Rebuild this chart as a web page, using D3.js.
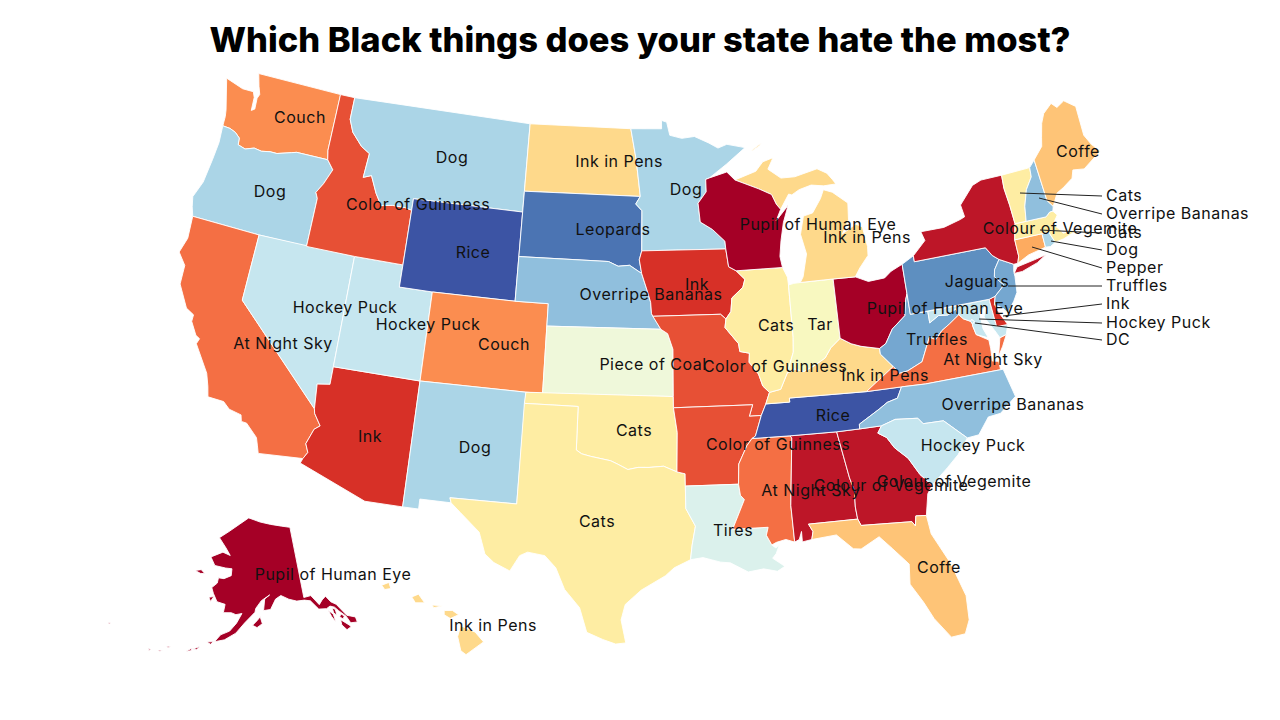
<!DOCTYPE html>
<html>
<head>
<meta charset="utf-8">
<script src="https://cdn.jsdelivr.net/npm/d3@7"></script>
<style>
  html, body { margin: 0; background: #fff; }
  text { font-family: Inter, "Open Sans", sans-serif; }
</style>
</head>
<body>
<svg id="chart" width="1280" height="720"></svg>
<script>
// things, worst first (this is the order the colour ramp runs in)
const things = ["Pupil of Human Eye", "Colour of Vegemite", "Ink", "Color of Guinness", "At Night Sky", "Couch", "Pepper", "Coffe", "Ink in Pens", "Cats", "Tar", "Piece of Coal", "Tires", "Hockey Puck", "Dog", "Overripe Bananas", "Truffles", "Jaguars", "Leopards", "Rice"];
const thingColors = ["#a50026", "#bd1628", "#d73027", "#e75035", "#f46f44", "#fb8d50", "#fdab60", "#fec477", "#fed98b", "#feeda3", "#f8f8c0", "#eff8da", "#dbf1ec", "#c6e6ef", "#abd5e7", "#90bfdd", "#75a7d0", "#5e8fc0", "#4b74b3", "#3c54a4"];

const stateThing = {
  WA: "Couch", OR: "Dog", CA: "At Night Sky", NV: "Hockey Puck", ID: "Color of Guinness", MT: "Dog", WY: "Rice",
  UT: "Hockey Puck", AZ: "Ink", CO: "Couch", NM: "Dog", ND: "Ink in Pens", SD: "Leopards", NE: "Overripe Bananas",
  KS: "Piece of Coal", OK: "Cats", TX: "Cats", MN: "Dog", IA: "Ink", MO: "Color of Guinness", AR: "Color of Guinness",
  LA: "Tires", WI: "Pupil of Human Eye", IL: "Cats", MI: "Ink in Pens", IN: "Tar", OH: "Pupil of Human Eye",
  KY: "Ink in Pens", TN: "Rice", MS: "At Night Sky", AL: "Colour of Vegemite", GA: "Colour of Vegemite", FL: "Coffe",
  SC: "Hockey Puck", NC: "Overripe Bananas", VA: "At Night Sky", WV: "Truffles", PA: "Jaguars", NY: "Colour of Vegemite",
  ME: "Coffe", VT: "Cats", NH: "Overripe Bananas", MA: "Cats", RI: "Dog", CT: "Pepper", NJ: "Truffles", DE: "Ink",
  MD: "Hockey Puck", DC: "Hockey Puck", AK: "Pupil of Human Eye", HI: "Ink in Pens"
};

// state outlines, lon,lat
const outlines = {
  WA: ["-124.73,48.38 -123.5,48.13 -122.76,48.14 -122.6,47.9 -122.55,47.3 -122.35,47.4 -122.4,47.9 -122.3,48.1 -122.5,48.45 -122.75,49 -117.03,49 -117.04,46.42 -116.92,45.995 -118.98,46 -119.3,45.93 -120.2,45.73 -120.65,45.73 -121.2,45.65 -121.7,45.7 -122.25,45.55 -122.75,45.65 -122.8,45.95 -123.15,46.15 -123.55,46.25 -124.05,46.27 -124.07,46.7 -124.15,47 -124.4,47.6"],
  OR: ["-124.05,46.27 -123.55,46.25 -123.15,46.15 -122.8,45.95 -122.75,45.65 -122.25,45.55 -121.7,45.7 -121.2,45.65 -120.65,45.73 -120.2,45.73 -119.3,45.93 -118.98,46 -116.92,45.995 -116.46,45.6 -116.85,44.9 -117.2,44.45 -117.03,44.2 -117.03,42 -120,42 -124.2,42 -124.4,42.4 -124.55,42.84 -124.2,43.6 -124.05,44.7 -123.97,45.5"],
  CA: ["-124.2,42 -120,42 -120,39 -114.63,35 -114.57,34.8 -114.14,34.3 -114.43,34.1 -114.72,33.4 -114.52,33.03 -114.72,32.72 -117.12,32.53 -117.25,32.85 -117.4,33.2 -118.1,33.73 -118.4,33.75 -118.5,34.03 -119.2,34.15 -119.6,34.42 -120.5,34.45 -120.65,34.9 -120.9,35.45 -121.9,36.6 -121.8,36.85 -122.05,36.95 -122.5,37.5 -122.5,37.8 -123,38 -123.75,38.95 -123.8,39.8 -124.35,40.3 -124.1,41"],
  NV: ["-120,42 -114.04,42 -114.04,37 -114.04,36.2 -114.75,36.1 -114.63,35 -120,39"],
  AZ: ["-114.04,37 -109.05,37 -109.05,31.33 -111.07,31.33 -114.81,32.5 -114.72,32.72 -114.52,33.03 -114.72,33.4 -114.43,34.1 -114.14,34.3 -114.57,34.8 -114.63,35 -114.75,36.1 -114.04,36.2"],
  UT: ["-114.04,42 -111.05,42 -111.05,41 -109.05,41 -109.05,37 -114.04,37"],
  ID: ["-117.04,49 -116.05,49 -116.05,48 -115.7,47.45 -114.95,46.9 -114.35,46.65 -114.45,45.55 -113.95,45.7 -113.45,44.95 -113,44.45 -112.3,44.55 -111.5,44.55 -111.05,44.48 -111.05,42 -114.04,42 -117.03,42 -117.03,44.2 -117.2,44.45 -116.85,44.9 -116.46,45.6 -116.92,45.995 -117.04,46.42"],
  MT: ["-116.05,49 -104.05,49 -104.05,45.94 -104.05,45 -111.05,45 -111.05,44.48 -111.5,44.55 -112.3,44.55 -113,44.45 -113.45,44.95 -113.95,45.7 -114.45,45.55 -114.35,46.65 -114.95,46.9 -115.7,47.45 -116.05,48"],
  WY: ["-111.05,45 -104.05,45 -104.05,43 -104.05,41 -109.05,41 -111.05,41"],
  CO: ["-109.05,41 -104.05,41 -102.05,41 -102.05,40 -102.05,37 -103,37 -109.05,37"],
  NM: ["-109.05,37 -103,37 -103.05,32 -106.62,32 -106.53,31.78 -108.2,31.78 -108.2,31.33 -109.05,31.33"],
  ND: ["-104.05,49 -97.23,49 -96.85,47.6 -96.56,45.94 -104.05,45.94"],
  SD: ["-104.05,45.94 -96.56,45.94 -96.85,45.6 -96.45,45.3 -96.45,43.5 -96.6,43.1 -96.45,42.49 -97.2,42.85 -97.9,42.8 -98.5,43 -104.05,43"],
  NE: ["-104.05,43 -98.5,43 -97.9,42.8 -97.2,42.85 -96.45,42.49 -96.1,41.7 -95.9,41.2 -95.85,40.7 -95.3,40 -102.05,40 -102.05,41 -104.05,41"],
  KS: ["-102.05,40 -95.3,40 -94.9,39.8 -94.6,39.1 -94.62,37 -102.05,37"],
  OK: ["-103,37 -94.62,37 -94.62,36.5 -94.43,35.4 -94.48,33.64 -95.2,33.9 -96,33.85 -96.6,33.85 -97.15,33.75 -97.7,33.98 -98.1,34.13 -99.2,34.3 -99.7,34.4 -100,34.56 -100,36.5 -103.04,36.5"],
  TX: ["-103.04,36.5 -100,36.5 -100,34.56 -99.7,34.4 -99.2,34.3 -98.1,34.13 -97.7,33.98 -97.15,33.75 -96.6,33.85 -96,33.85 -95.2,33.9 -94.48,33.64 -94.04,33.55 -94.04,33 -94.04,32 -93.55,31.2 -93.75,30.35 -93.85,29.7 -94.7,29.35 -95.15,29 -96.4,28.35 -97.2,27.7 -97.4,27 -97.15,25.96 -97.65,25.9 -98.3,26.1 -99.1,26.4 -99.5,27.5 -100.3,28.3 -100.8,29.25 -101.4,29.77 -102.3,29.88 -102.7,29.7 -103.15,28.98 -104,29.3 -104.5,29.65 -104.9,30.6 -106,31.4 -106.53,31.78 -106.62,32 -103.05,32"],
  MN: ["-97.23,49 -95.15,49 -95.15,49.38 -94.8,49.3 -94.6,48.7 -93.8,48.55 -92.95,48.62 -92,48.3 -91.4,48.05 -90.8,48.2 -89.6,48 -90.9,47.3 -92.05,46.72 -92.3,46.66 -92.3,46.1 -92.85,45.6 -92.75,44.75 -92,44.4 -91.25,43.85 -91.22,43.5 -96.45,43.5 -96.45,45.3 -96.85,45.6 -96.56,45.94 -96.85,47.6"],
  IA: ["-96.45,43.5 -91.22,43.5 -91.1,42.7 -90.65,42.5 -90.15,42.1 -90.3,41.75 -91,41.3 -91.1,40.7 -91.42,40.38 -91.73,40.6 -95.77,40.58 -95.85,40.7 -95.9,41.2 -96.1,41.7 -96.45,42.49 -96.6,43.1"],
  MO: ["-95.77,40.58 -91.73,40.6 -91.42,40.38 -91.5,40 -90.75,39.25 -90.7,38.9 -90.15,38.8 -90.2,38.4 -89.7,37.85 -89.5,37.3 -89.15,37 -89.4,36.5 -89.7,36 -90.37,36 -90.15,36.5 -94.62,36.5 -94.62,37 -94.6,39.1 -94.9,39.8 -95.3,40"],
  AR: ["-94.62,36.5 -90.15,36.5 -90.37,36 -89.7,36 -90.1,35.1 -90.3,35 -90.6,34.7 -91.1,33.9 -91.17,33 -94.04,33 -94.04,33.55 -94.48,33.64 -94.43,35.4"],
  LA: ["-94.04,33 -91.17,33 -91.1,32.5 -90.9,32.3 -91.6,31 -89.73,31 -89.85,30.65 -89.6,30.2 -89.4,30.05 -89.2,30.2 -89.4,29.8 -89.6,29.6 -89,29.2 -89.4,29 -90.1,29.15 -90.9,29.05 -91.8,29.5 -92.3,29.55 -93.2,29.78 -93.85,29.7 -93.75,30.35 -93.55,31.2 -94.04,32"],
  MS: ["-90.3,35 -88.2,35 -88.1,34.9 -88.45,31.9 -88.4,30.25 -88.85,30.4 -89.35,30.3 -89.6,30.2 -89.85,30.65 -89.73,31 -91.6,31 -90.9,32.3 -91.1,32.5 -91.17,33 -91.1,33.9 -90.6,34.7"],
  AL: ["-88.2,35 -85.6,34.98 -85.18,32.87 -85,32.3 -85.05,31.55 -85,31 -87.6,31 -87.4,30.65 -87.5,30.3 -88,30.23 -88,30.7 -88.15,30.35 -88.4,30.25 -88.45,31.9 -88.1,34.9"],
  GA: ["-85.6,34.98 -84.32,34.99 -83.1,35 -83.35,34.7 -82.9,34.45 -82.55,33.95 -81.9,33.4 -81.4,32.6 -80.85,32.05 -81.15,31.7 -81.4,30.75 -81.95,30.8 -82.05,30.36 -82.2,30.57 -84.86,30.7 -85,31 -85.05,31.55 -85,32.3 -85.18,32.87"],
  FL: ["-87.6,31 -85,31 -84.86,30.7 -82.2,30.57 -82.05,30.36 -81.95,30.8 -81.4,30.75 -81.3,29.9 -80.55,28.45 -80.05,26.9 -80.1,25.8 -80.4,25.2 -81.1,25.15 -81.8,26.1 -82.2,26.9 -82.75,27.8 -82.65,28.7 -83.4,29.5 -84,30.1 -85,29.65 -85.4,29.7 -86.2,30.4 -87.5,30.3 -87.4,30.65"],
  TN: ["-90.3,35 -90.1,35.1 -89.7,36 -89.4,36.5 -88.05,36.5 -88.05,36.68 -83.68,36.6 -81.68,36.59 -82,36.12 -82.6,36 -83.1,35.75 -84.3,35.2 -84.32,34.99 -85.6,34.98 -88.2,35"],
  KY: ["-89.4,36.5 -89.15,37 -88.5,37.1 -88.05,37.8 -87.6,37.95 -87.1,37.8 -86.5,38 -85.8,38.3 -85.4,38.73 -84.8,39.1 -84.2,38.8 -83.65,38.63 -82.6,38.42 -82.6,38.17 -81.97,37.54 -83.68,36.6 -88.05,36.68 -88.05,36.5"],
  IL: ["-90.65,42.5 -87.8,42.5 -87.55,42.05 -87.53,41.7 -87.53,39.35 -87.6,38.7 -88.05,37.8 -88.5,37.1 -89.15,37 -89.5,37.3 -89.7,37.85 -90.2,38.4 -90.15,38.8 -90.7,38.9 -90.75,39.25 -91.5,40 -91.42,40.38 -91.1,40.7 -91,41.3 -90.3,41.75 -90.15,42.1"],
  IN: ["-87.53,41.7 -87.2,41.75 -86.8,41.76 -84.8,41.76 -84.8,39.1 -85.4,38.73 -85.8,38.3 -86.5,38 -87.1,37.8 -87.6,37.95 -88.05,37.8 -87.6,38.7 -87.53,39.35"],
  OH: ["-84.8,41.76 -83.45,41.73 -82.7,41.45 -81.7,41.5 -81.25,41.75 -80.52,41.98 -80.52,40.64 -80.65,40.4 -80.85,39.7 -81.7,39.2 -82.2,38.6 -82.6,38.42 -83.65,38.63 -84.2,38.8 -84.8,39.1"],
  WV: ["-82.6,38.17 -82.6,38.42 -82.2,38.6 -81.7,39.2 -80.85,39.7 -80.65,40.4 -80.52,40.64 -80.52,39.72 -79.48,39.72 -79.48,39.2 -78.9,39.45 -78.35,39.4 -77.83,39.6 -77.72,39.32 -78.35,39 -78.87,38.76 -79.3,38.42 -79.65,38.57 -80.3,37.55 -81.2,37.25 -81.68,37.2 -81.97,37.54"],
  VA: ["-83.68,36.6 -81.68,36.59 -80.3,36.55 -76,36.55 -76,36.93 -76.35,37 -76.3,37.55 -76.3,37.95 -76.95,38.3 -77.05,38.7 -77.04,38.79 -77.12,38.93 -77.5,39.1 -77.72,39.32 -78.35,39 -78.87,38.76 -79.3,38.42 -79.65,38.57 -80.3,37.55 -81.2,37.25 -81.68,37.2 -81.97,37.54", "-75.95,37.15 -75.65,37.95 -75.25,38.03 -75.6,37.55"],
  MD: ["-79.48,39.72 -75.79,39.72 -75.7,38.46 -75.05,38.45 -75.25,38.03 -75.65,37.95 -75.85,38.3 -76.3,39 -76,39.5 -76.5,39.2 -76.5,38.5 -76.3,38.05 -76.95,38.3 -77.05,38.7 -77.04,38.79 -76.91,38.89 -77.04,39 -77.12,38.93 -77.5,39.1 -77.72,39.32 -77.83,39.6 -78.35,39.4 -78.9,39.45 -79.48,39.2"],
  DC: ["-77.12,38.93 -77.04,39 -76.91,38.89 -77.04,38.79"],
  DE: ["-75.79,39.72 -75.4,39.8 -75.55,39.45 -75.4,39.05 -75.05,38.45 -75.7,38.46"],
  PA: ["-80.52,41.98 -79.76,42.27 -79.76,42 -75.35,42 -75.05,41.6 -74.7,41.36 -75.1,40.95 -75.2,40.65 -74.75,40.2 -75.4,39.8 -75.79,39.72 -80.52,39.72"],
  NJ: ["-74.7,41.36 -73.9,41 -74,40.7 -74,40.45 -74.1,39.75 -74.4,39.4 -74.9,38.95 -75.1,39.2 -75.55,39.45 -75.4,39.8 -74.75,40.2 -75.2,40.65 -75.1,40.95"],
  NY: ["-79.76,42 -79.76,42.27 -78.9,42.85 -79.05,43.27 -77.6,43.27 -76.5,43.47 -76.2,43.55 -76.3,44.1 -75.3,44.85 -74.7,45 -73.35,45 -73.4,44.4 -73.3,43.6 -73.25,42.75 -73.5,42.05 -73.5,41.3 -73.65,41 -73.9,41 -74.7,41.36 -75.05,41.6 -75.35,42", "-74,40.6 -73.75,40.85 -72.6,40.98 -71.9,41.07 -72.5,40.82 -73.5,40.6"],
  CT: ["-73.5,42.05 -71.8,42.02 -71.8,41.4 -72.9,41.25 -73.65,41 -73.5,41.3"],
  RI: ["-71.8,42.02 -71.38,42.02 -71.15,41.5 -71.5,41.37 -71.8,41.4"],
  MA: ["-73.5,42.05 -73.25,42.75 -72.55,42.73 -71.3,42.7 -71,42.87 -70.8,42.87 -70.6,42.65 -71,42.3 -70.65,41.95 -70.55,41.8 -70.05,41.8 -70.2,42.07 -69.95,41.7 -70.6,41.55 -71.15,41.5 -71.38,42.02 -71.8,42.02"],
  VT: ["-73.35,45 -71.5,45.02 -71.55,44.6 -72.05,44.1 -72.4,43.4 -72.55,42.73 -73.25,42.75 -73.3,43.6 -73.4,44.4"],
  NH: ["-71.5,45.02 -71.1,45.3 -70.98,43.4 -70.7,43.07 -70.8,42.87 -71,42.87 -71.3,42.7 -72.55,42.73 -72.4,43.4 -72.05,44.1 -71.55,44.6"],
  ME: ["-71.1,45.3 -70.4,45.8 -70.25,46.2 -70,46.8 -69.7,47.2 -69.05,47.55 -68.75,47.3 -68.2,47.5 -67.55,47.1 -67.6,45.75 -67.3,45.25 -66.9,44.85 -68.2,44.3 -68.9,44.4 -69.1,44.05 -69.8,43.75 -70.25,43.6 -70.7,43.07 -70.98,43.4"],
  NC: ["-81.68,36.59 -80.3,36.55 -76,36.55 -75.85,36.55 -75.5,35.25 -76.5,34.65 -77.2,34.6 -77.9,33.9 -78.55,33.86 -79.67,34.8 -80.8,34.82 -81.05,35.1 -82.3,35.2 -83.1,35 -84.32,34.99 -84.3,35.2 -83.1,35.75 -82.6,36 -82,36.12"],
  SC: ["-83.1,35 -82.3,35.2 -81.05,35.1 -80.8,34.82 -79.67,34.8 -78.55,33.86 -79.2,33.2 -79.9,32.7 -80.85,32.05 -81.4,32.6 -81.9,33.4 -82.55,33.95 -82.9,34.45 -83.35,34.7"],
  MI: ["-90.4,46.57 -89,46.9 -88.5,47.3 -87.8,47.45 -88.2,46.95 -87.4,46.5 -86.5,46.5 -85,46.75 -84.4,46.5 -84.1,46.2 -83.9,45.97 -84.7,45.95 -85.5,46.05 -86.3,45.9 -86.8,45.7 -87,45.75 -87.6,45.1 -87.85,45.35 -88.1,45.8 -88.9,46.1", "-86.8,41.76 -84.8,41.76 -83.45,41.73 -83.1,42.1 -82.5,42.6 -82.45,43 -82.6,43.9 -83,44.07 -83.9,43.7 -83.4,44.3 -83.3,45.05 -84.2,45.62 -84.75,45.78 -85,45.4 -85.6,44.8 -86.2,44.7 -86.5,43.9 -86.25,43 -86.6,42", "-89.2,47.85 -88.5,48.15 -88.6,48.05 -89.1,47.85"],
  WI: ["-90.4,46.57 -88.9,46.1 -88.1,45.8 -87.85,45.35 -87.6,45.1 -87.95,44.6 -87.1,45.25 -87.5,44.5 -87.75,43.7 -87.9,43 -87.8,42.5 -90.65,42.5 -91.1,42.7 -91.22,43.5 -91.25,43.85 -92,44.4 -92.75,44.75 -92.85,45.6 -92.3,46.1 -92.3,46.66 -92.05,46.72 -90.9,46.95"],
  AK: ["-141,69.65 -141,60.3 -139.1,60.35 -137.5,58.95 -136.5,59.45 -135.4,59.8 -134.5,58.9 -133.4,58.4 -131.8,56.6 -130,56 -130,55.3 -131.5,55.5 -132,56.5 -133.3,57.5 -134,58.1 -135,58.4 -136,58.2 -137.9,58.4 -139.5,59.7 -141,59.95 -143,60 -145,60.4 -147,61 -148.5,60.6 -150,59.3 -151.8,59.2 -151.4,60.7 -150,61.2 -152.3,60.5 -153.8,59.5 -154,59 -156.5,57.6 -158.5,56.2 -161,55.2 -163.2,54.8 -162,55.8 -160,56.4 -158.5,57.5 -157.3,58.8 -158.8,58.6 -160,58.8 -162,58.7 -161.8,59.8 -164,60 -165.3,61 -166,61.7 -164.7,62.4 -164.6,63.1 -163,63.1 -161,63.6 -161,64.5 -163,64.5 -166.3,64.6 -168,65.6 -164.5,66.5 -162,66.2 -163.7,67.1 -166.5,68.3 -163.5,69.3 -160,70.4 -156.5,71.35 -152,70.8 -148,70.4 -144,70",
    "-154.6,57.3 -153.5,57 -152.2,57.5 -152.7,58.4 -153.5,57.9", "-164.9,54.6 -163.4,54.8 -164,54.4", "-171.7,63.4 -170,63.7 -168.7,63.3 -170,63.2", "-166.3,60.4 -165,60.6 -165.7,59.9",
    "-133.5,56.3 -132,55.3 -131.7,55 -132.8,54.8 -133.6,55.6", "-135.7,57.9 -134.8,57.3 -134.7,56.2 -135.3,57", "-134.6,58.1 -134,57.8 -134,57 -134.6,57.4", "-133,57 -132.4,56.6 -132.9,56.3 -133.5,56.7",
    "-167.8,53.3 -166.2,53.9 -166.8,53.4", "-169,52.9 -167.8,53.5 -168,53.1", "-174.8,52.1 -173.9,52.2 -174.4,52", "-176.9,51.8 -176.4,51.9 -176.6,51.65", "-173.3,52.9 -172.5,53 -172.9,52.75", "-187,52.8 -186.4,53 -186.6,52.7"],
  HI: ["-155.9,20.25 -155.2,19.95 -154.8,19.5 -155.65,18.92 -155.9,19.1 -156.05,19.75", "-156.7,20.95 -156.3,20.95 -156,20.75 -156.4,20.58 -156.7,20.75", "-157.3,21.2 -156.75,21.17 -157.2,21.08", "-158.28,21.57 -157.95,21.7 -157.65,21.3 -158.1,21.3", "-159.75,22.1 -159.4,22.23 -159.3,21.95 -159.6,21.9"]
};

// where the state labels sit on the page
const labelAt = {
  WA: [300, 117], OR: [270, 191], CA: [283, 343], NV: [345, 307], ID: [418, 204], MT: [452, 157], WY: [473, 252],
  UT: [428, 324], AZ: [370, 436], CO: [504, 344], NM: [475, 447], ND: [619, 161], SD: [613, 229], NE: [651, 294],
  KS: [653, 364], OK: [634, 430], TX: [597, 521], MN: [686, 189], IA: [697, 284], MO: [775, 366], AR: [778, 444],
  LA: [733, 530], WI: [818, 224], IL: [776, 325], MI: [867, 237], IN: [820, 324], OH: [945, 308], KY: [885, 375],
  TN: [833, 415], MS: [811, 490], AL: [891, 485], GA: [954, 481], FL: [939, 567], SC: [973, 445], NC: [1013, 404],
  VA: [993, 359], WV: [937, 339], PA: [977, 281], NY: [1060, 228], ME: [1078, 151], AK: [333, 574], HI: [493, 625]
};

// small states labelled off to the right: name, text, where the line starts
const callouts = [
  ["VT", "Cats", 1020, 193], ["NH", "Overripe Bananas", 1039, 198], ["MA", "Cats", 1040, 230],
  ["RI", "Dog", 1051, 241], ["CT", "Pepper", 1032, 247], ["NJ", "Truffles", 1008, 286],
  ["DE", "Ink", 1003, 316], ["MD", "Hockey Puck", 979, 319], ["DC", "DC", 975, 323]
];
const calloutRows = [195, 213, 232, 249, 267, 285, 303, 322, 339];

const color = d3.scaleOrdinal().domain(things).range(thingColors);

// lower 48 plus the two insets, each on its own conic
const lower48 = d3.geoConicEqualArea().parallels([29.5, 45.5]).rotate([96, 0]).center([0, 37.5]).scale(1275).translate([649, 385.5]);
const alaska = d3.geoConicEqualArea().parallels([55, 65]).rotate([154, 0]).center([-2, 58.5]).scale(439).translate([247, 616]);
const hawaii = d3.geoConicEqualArea().parallels([8, 18]).rotate([157, 0]).center([-3, 19.9]).scale(1255).translate([376, 633]);

function planarPath(projection) {
  return d3.geoPath(d3.geoTransform({
    point(lon, lat) {
      const p = projection([lon, lat]);
      this.stream.point(p[0], p[1]);
    }
  }));
}
const paths = { AK: planarPath(alaska), HI: planarPath(hawaii), rest: planarPath(lower48) };

// geojson rings repeat their first point
function toRing(text) {
  const ring = text.split(" ").map(pair => pair.split(",").map(Number));
  ring.push(ring[0]);
  return ring;
}

const states = Object.keys(outlines).map(name => ({
  name,
  feature: { type: "MultiPolygon", coordinates: outlines[name].map(ring => [toRing(ring)]) }
}));

const svg = d3.select("#chart");

svg.append("g").selectAll("path")
  .data(states)
  .enter().append("path")
    .attr("d", d => (paths[d.name] || paths.rest)(d.feature))
    .attr("fill", d => color(stateThing[d.name]))
    .attr("stroke", "#fff")
    .attr("stroke-width", 0.9)
    .attr("stroke-linejoin", "round");

svg.append("g").selectAll("text")
  .data(Object.keys(labelAt))
  .enter().append("text")
    .attr("x", d => labelAt[d][0])
    .attr("y", d => labelAt[d][1])
    .attr("dy", "0.35em")
    .attr("text-anchor", "middle")
    .attr("font-size", 16)
    .attr("letter-spacing", 0.5)
    .attr("fill", "#111")
    .text(d => stateThing[d]);

// lines out to the small states
svg.append("g").selectAll("line")
  .data(callouts)
  .enter().append("line")
    .attr("x1", d => d[2])
    .attr("y1", d => d[3])
    .attr("x2", 1102)
    .attr("y2", (d, i) => calloutRows[i] + 1)
    .attr("stroke", "#222")
    .attr("stroke-width", 1);

svg.append("g").selectAll("text")
  .data(callouts)
  .enter().append("text")
    .attr("x", 1106)
    .attr("y", (d, i) => calloutRows[i])
    .attr("dy", "0.35em")
    .attr("font-size", 16)
    .attr("letter-spacing", 0.5)
    .attr("fill", "#111")
    .text(d => d[1]);

svg.append("text")
  .attr("x", 640)
  .attr("y", 52)
  .attr("text-anchor", "middle")
  .attr("font-size", 34.5)
  .attr("font-weight", 800)
  .attr("fill", "#000")
  .text("Which Black things does your state hate the most?");
</script>
</body>
</html>
